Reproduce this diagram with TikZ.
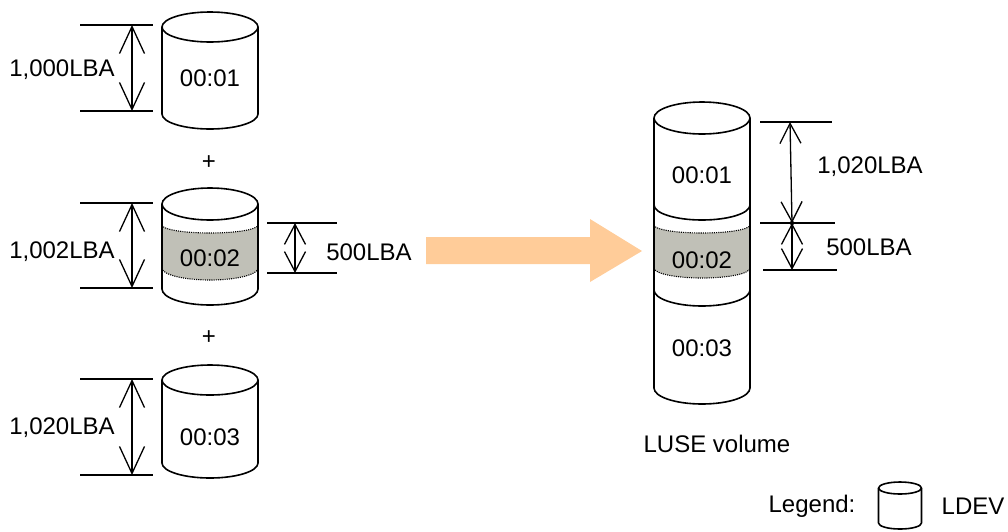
\documentclass[tikz,border=0pt]{standalone}
\usepackage{fontspec}
\setmainfont{Liberation Sans}
\usetikzlibrary{arrows.meta}
\definecolor{bandgray}{RGB}{192,192,183}
\definecolor{bigarrow}{RGB}{255,204,153}
\tikzset{
  lbl/.style={font=\fontsize{24}{28}\selectfont, inner sep=0pt, anchor=center},
  outl/.style={line width=1.6pt, line join=round},
  dimline/.style={line width=1.3pt},
  dimarrow/.style={line width=1.3pt, {Straight Barb[length=27pt,width=25pt,line width=1.3pt]}-{Straight Barb[length=27pt,width=25pt,line width=1.3pt]}},
  dimarrowsm/.style={line width=1.3pt, {Straight Barb[length=20pt,width=21pt,line width=1.3pt]}-{Straight Barb[length=20pt,width=21pt,line width=1.3pt]}},
  dotarc/.style={line width=1.1pt, dash pattern=on 1.1pt off 1.1pt},
}
% cylinder: #1 cx, #2 top center y, #3 bottom center y, #4 rx, #5 ry
\newcommand\mycyl[5]{%
  \fill[white] (#1-#4,#2) -- (#1-#4,#3) arc[start angle=180,end angle=360,x radius=#4pt,y radius=#5pt] -- (#1+#4,#2) -- cycle;
}
\newcommand\mycylline[5]{%
  \draw[outl] (#1-#4,#2) -- (#1-#4,#3) arc[start angle=180,end angle=360,x radius=#4pt,y radius=#5pt] -- (#1+#4,#2);
  \draw[outl] (#1,#2) ellipse[x radius=#4pt,y radius=#5pt];
}
% band: #1 cx, #2 top y, #3 top ry, #4 bottom y, #5 bottom ry
\newcommand\myband[5]{%
  \fill[bandgray] (#1-48,#2) arc[start angle=180,end angle=360,x radius=48pt,y radius=#3pt] -- (#1+48,#4) arc[start angle=360,end angle=180,x radius=48pt,y radius=#5pt] -- cycle;
  \draw[dotarc] (#1-48,#2) arc[start angle=180,end angle=360,x radius=48pt,y radius=#3pt];
  \draw[dotarc] (#1-48,#4) arc[start angle=180,end angle=360,x radius=48pt,y radius=#5pt];
}
\begin{document}
\begin{tikzpicture}[x=1pt,y=-1pt]
\useasboundingbox (0,0) rectangle (1008,531);

% ---------- left cylinders ----------
\mycyl{210}{27}{114}{48}{15}
\mycylline{210}{27}{114}{48}{15}
\node[lbl] (t01) at (210,78) {00:01};

\node[lbl] (plus1) at (209,163) {+};

\mycyl{210}{204}{289}{48}{16}
\myband{210}{225}{8}{268}{12}
\mycylline{210}{204}{289}{48}{16}
\node[lbl] (t02) at (210,258) {00:02};

\node[lbl] (plus2) at (209,338) {+};

\mycyl{210}{380}{463}{48}{15}
\mycylline{210}{380}{463}{48}{15}
\node[lbl] (t03) at (210,437) {00:03};

% ---------- left dimensions ----------
\coordinate (a1l) at (80,25);  \coordinate (a1r) at (153,25);
\coordinate (b1l) at (80,111); \coordinate (b1r) at (153,111);
\draw[dimline] (a1l) -- (a1r);
\draw[dimline] (b1l) -- (b1r);
\coordinate (a1) at (132,25); \coordinate (b1) at (132,111);
\draw[dimarrow] (a1) -- (b1);
\node[lbl] (d1) at (62,70) {1,000LBA};

\coordinate (a2l) at (80,203);  \coordinate (a2r) at (153,203);
\coordinate (b2l) at (80,288);  \coordinate (b2r) at (153,288);
\draw[dimline] (a2l) -- (a2r);
\draw[dimline] (b2l) -- (b2r);
\coordinate (a2) at (132,203); \coordinate (b2) at (132,288);
\draw[dimarrow] (a2) -- (b2);
\node[lbl] (d2) at (62,252) {1,002LBA};

\coordinate (c2l) at (267,223); \coordinate (c2r) at (337,223);
\coordinate (e2l) at (267,273); \coordinate (e2r) at (337,273);
\draw[dimline] (c2l) -- (c2r);
\draw[dimline] (e2l) -- (e2r);
\coordinate (c2) at (295,223); \coordinate (e2) at (295,273);
\draw[dimarrowsm] (c2) -- (e2);
\node[lbl] (d3) at (369,252) {500LBA};

\coordinate (a3l) at (80,379);  \coordinate (a3r) at (153,379);
\coordinate (b3l) at (80,475);  \coordinate (b3r) at (153,475);
\draw[dimline] (a3l) -- (a3r);
\draw[dimline] (b3l) -- (b3r);
\coordinate (a3) at (132,379); \coordinate (b3) at (132,475);
\draw[dimarrow] (a3) -- (b3);
\node[lbl] (d4) at (62,428) {1,020LBA};

% ---------- big arrow ----------
\fill[bigarrow] (426,237) -- (590,237) -- (590,219) -- (642,251) -- (590,282) -- (590,264) -- (426,264) -- cycle;

% ---------- right LUSE cylinder ----------
\mycyl{702}{118}{388}{48}{16}
\myband{702}{225}{8}{268}{10}
\draw[outl] (654,205) arc[start angle=180,end angle=360,x radius=48pt,y radius=15pt];
\draw[outl] (654,290) arc[start angle=180,end angle=360,x radius=48pt,y radius=16pt];
\mycylline{702}{118}{388}{48}{16}
\node[lbl] (r01) at (702,175) {00:01};
\node[lbl] (r02) at (702,260) {00:02};
\node[lbl] (r03) at (702,348) {00:03};

% ---------- right dimensions ----------
\coordinate (ra1) at (760,122); \coordinate (ra2) at (832,122);
\coordinate (rb1) at (760,223); \coordinate (rb2) at (835,223);
\coordinate (rc1) at (763,270); \coordinate (rc2) at (837,270);
\draw[dimline] (ra1) -- (ra2);
\draw[dimline] (rb1) -- (rb2);
\draw[dimline] (rc1) -- (rc2);
\coordinate (rat) at (790,122); \coordinate (ram) at (792,223); \coordinate (rab) at (792,270);
\draw[dimarrowsm] (rat) -- (ram);
\draw[dimarrowsm] (ram) -- (rab);
\fill (ram) circle[radius=2.2pt];
\node[lbl] (r1020) at (870,167) {1,020LBA};
\node[lbl] (r500) at (869,247) {500LBA};

\node[lbl] (luse) at (717,444) {LUSE volume};

% ---------- legend ----------
\node[lbl] (leg) at (812,506) {Legend:};
\mycyl{900}{488}{523}{21.5}{6}
\mycylline{900}{488}{523}{21.5}{6}
\node[lbl] (ldev) at (973,506) {LDEV};
\end{tikzpicture}
\end{document}
